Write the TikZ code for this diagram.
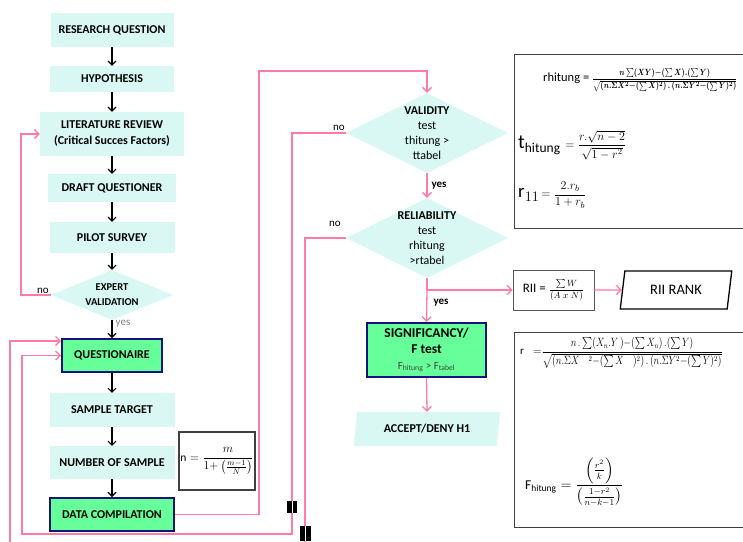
\documentclass[tikz,border=0pt]{standalone}
\usepackage{fontspec}
\usepackage{amsmath}
\usepackage{graphicx}
\setmainfont{Carlito}
\usetikzlibrary{shapes.geometric,arrows.meta}
\definecolor{boxcyan}{HTML}{DAF8F3}
\definecolor{qgreen}{HTML}{66FF99}
\definecolor{navy}{HTML}{14147F}
\definecolor{lpink}{HTML}{FF7AA5}
\definecolor{fgray}{HTML}{404040}
\newcommand\myfs[2]{\fontsize{#1}{#2}\selectfont}
\begin{document}
\begin{tikzpicture}[x=1pt,y=-1pt,
 cbox/.style={fill=boxcyan,inner sep=0pt,align=center,font=\bfseries\myfs{12}{16}},
 gbox/.style={fill=qgreen,draw=navy,line width=2pt,inner sep=0pt,align=center,font=\bfseries\myfs{12}{16}},
 dia/.style={diamond,fill=boxcyan,inner sep=0pt},
 blk/.style={draw=black,line width=1.1pt,-{Straight Barb[length=4pt,width=8pt]}},
 pk/.style={draw=lpink,line width=1.3pt},
 pka/.style={pk,-{Straight Barb[length=4.5pt,width=9pt]}},
 lbl/.style={font=\myfs{11}{13},inner sep=0pt},
 fbox/.style={draw=fgray,line width=1.3pt,inner sep=0pt},
 blackmark/.style={fill=black},
]
\useasboundingbox (0,0) rectangle (743,541);
\clip (0,0) rectangle (743,541);

% left column
\node[cbox,minimum width=123,minimum height=34] (rq) at (112,30) {RESEARCH QUESTION};
\node[cbox,minimum width=124,minimum height=26] (hyp) at (112,79) {HYPOTHESIS};
\node[cbox,minimum width=144,minimum height=44] (lit) at (112,134) {LITERATURE REVIEW\\(Critical Succes Factors)};
\node[cbox,minimum width=128,minimum height=28] (dq) at (112,188) {DRAFT QUESTIONER};
\node[cbox,minimum width=125,minimum height=31] (ps) at (112,237.5) {PILOT SURVEY};
\node[dia,minimum width=122,minimum height=50] (ev) at (112,295) {};
\node[align=center,font=\bfseries\myfs{10.5}{15}] at (ev) {EXPERT\\VALIDATION};
\node[gbox,minimum width=100,minimum height=33] (q) at (112,355.5) {QUESTIONAIRE};
\node[cbox,minimum width=125,minimum height=34] (st) at (112,410) {SAMPLE TARGET};
\node[cbox,minimum width=125,minimum height=33] (ns) at (112,462.5) {NUMBER OF SAMPLE};
\node[gbox,minimum width=124,minimum height=33] (dc) at (112,514.5) {DATA COMPILATION};
\node[fbox,minimum width=76,minimum height=58] (nb) at (217,461) {\myfs{11.5}{13}$\mathrm{n}=\dfrac{m}{1{+}\left(\frac{m{-}1}{N}\right)}$};

\draw[blk] (rq.south) -- (hyp.north);
\draw[blk] (hyp.south) -- (lit.north);
\draw[blk] (lit.south) -- (dq.north);
\draw[blk] (dq.south) -- (ps.north);
\draw[blk] (ps.south) -- (ev.north);
\draw[blk] (ev.south) -- (q.north);
\draw[blk] (q.south) -- (st.north);
\draw[blk] (st.south) -- (ns.north);
\draw[blk] (ns.south) -- (dc.north);
\node[lbl,text=gray] at (123,324) {yes};

% right column
\node[dia,minimum width=162,minimum height=80] (val) at (427,133) {};
\node[align=center,font=\myfs{12}{15}] at (val) {\textbf{VALIDITY}\\test\\thitung >\\ttabel};
\node[dia,minimum width=162,minimum height=80] (rel) at (427,238) {};
\node[align=center,font=\myfs{12}{15}] at (rel) {\textbf{RELIABILITY}\\test\\rhitung\\>rtabel};
\node[gbox,minimum width=119,minimum height=54,font=\bfseries\myfs{13.5}{16}] (sig) at (426.5,350) {SIGNIFICANCY/\\F test\\{\mdseries\myfs{11}{13}\color{fgray}F\textsubscript{hitung} > F\textsubscript{tabel}}};
\node[trapezium,trapezium left angle=77,trapezium right angle=103,trapezium stretches=true,fill=boxcyan,minimum width=147,minimum height=34,inner sep=0pt,font=\bfseries\myfs{12}{14}] (acc) at (427,429) {ACCEPT/DENY H1};
\node[draw=gray!70!black,line width=0.8pt,minimum width=81,minimum height=40,inner sep=0pt] (rii) at (553.5,290) {\myfs{13}{15}RII = \myfs{9}{11}$\dfrac{\sum W}{(A\;x\;N)}$};
\node[trapezium,trapezium left angle=76,trapezium right angle=104,trapezium stretches=true,draw=black,line width=1.3pt,minimum width=112,minimum height=38,inner sep=0pt,font=\myfs{14.5}{16}] (rank) at (676,290) {RII RANK};

% formula boxes
\node[fbox,minimum width=260,minimum height=174,anchor=north west] (fb1) at (514,54) {};
\node[fbox,minimum width=260,minimum height=195,anchor=north west] (fb2) at (514,332) {};
\node[anchor=west,inner sep=0pt] (rh) at (543,80) {\myfs{12.5}{16}rhitung = \scalebox{0.8}[1]{\boldmath\myfs{9.5}{11}$\dfrac{n\sum(XY){-}(\sum X).(\sum Y)}{\sqrt{\left(n.\Sigma X^2{-}(\sum X)^2\right).\left(n.\Sigma Y^2{-}(\sum Y)^2\right)}}$}};
\node[anchor=west,inner sep=0pt] (th) at (518,145) {{\myfs{20}{24}t}{\myfs{13.5}{14}\raisebox{-4pt}{hitung}}{\myfs{12}{14}$\;\,=\dfrac{r.\sqrt{n-2}}{\sqrt{1-r^2}}$}};
\node[anchor=west,inner sep=0pt] (r11) at (518,195) {{\myfs{19}{22}$\mathrm{r}_{11}$}{\myfs{13}{14}$\,=\dfrac{2.r_b}{1+r_b}$}};
\node[anchor=west,inner sep=0pt] (rb) at (520,353) {\myfs{11}{13}$\mathrm{r}\;\;=$\scalebox{0.8}[1]{\myfs{11.5}{13}$\dfrac{n\,.\sum(X_n.Y\,){-}(\sum X_n)\,.(\sum Y)}{\sqrt{\left(n.\Sigma X\quad{}^2{-}(\sum X\quad)^2\right).\left(n.\Sigma Y^2{-}(\sum Y)^2\right)}}$}};
\node[anchor=west,inner sep=0pt] (fh) at (525,482) {\myfs{13.5}{15}$\mathrm{F}_{\mathrm{hitung}}=\dfrac{\left(\frac{r^2}{k}\right)}{\left(\frac{1-r^2}{n-k-1}\right)}$};

% connectors
\coordinate (j) at (427,290);
\draw[pka] (val.south) -- (rel.north);
\node[lbl,font=\bfseries\myfs{11}{13}] at (439,186) {yes};
\draw[pk] (rel.south) -- (j);
\draw[pka] (j) -- (sig.north);
\draw[pka] (j) -- (rii.west);
\node[lbl,font=\bfseries\myfs{11}{13}] at (441,303) {yes};
\draw[pka] (rii.east) -- (rank.west);
\draw[pka] (sig.south) -- (acc.north);

\draw[pka] (ev.west) -- (21,295) |- (lit.west);
\node[lbl] at (43,291) {no};
\draw[pka] (dc.east) -- (259,514.5) |- (427,71) -- (val.north);
\draw[pka] (val.west) -- (292,133) -- (292,534) -- (22,534) |- (q.west);
\node[lbl] at (339,128) {no};
\draw[pka] (rel.west) -- (305,238) -- (305,548) -- (10,548) |- ([yshift=14.5pt]q.west);
\node[lbl] at (335,224) {no};

% marks
\fill[blackmark] (287,501) rectangle (297,513);
\draw[white,line width=0.6pt] (292,501) -- (292,513);
\fill[blackmark] (300,526) rectangle (311,541);
\draw[white,line width=0.6pt] (305.5,526) -- (305.5,541);
\end{tikzpicture}
\end{document}
